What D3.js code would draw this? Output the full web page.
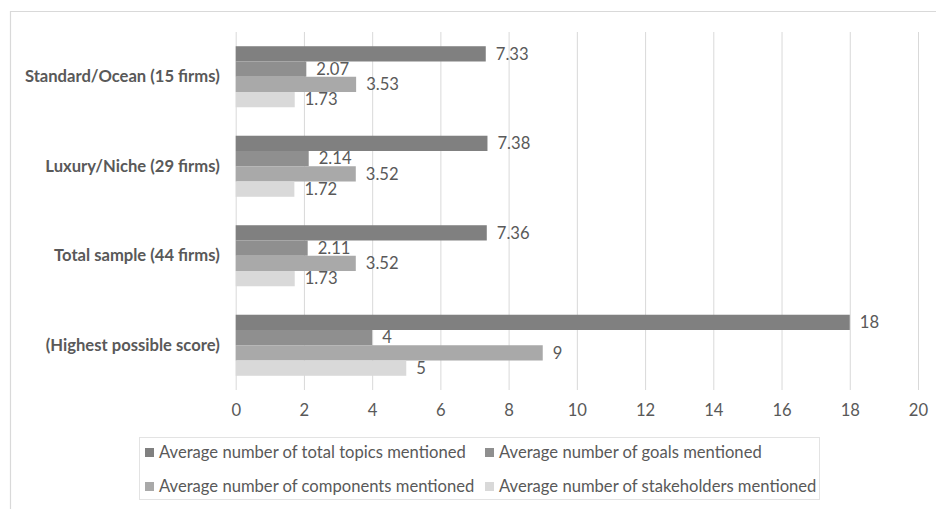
<!DOCTYPE html>
<html>
<head>
<meta charset="utf-8">
<script src="https://cdn.jsdelivr.net/npm/d3@7"></script>
<style>
  html, body { margin: 0; padding: 0; background: #ffffff; }
  svg { display: block; }
</style>
</head>
<body>
<svg id="chart" width="936" height="509"></svg>
<script>
// ---- data ----
const categories = [
  "Standard/Ocean (15 firms)",
  "Luxury/Niche (29 firms)",
  "Total sample (44 firms)",
  "(Highest possible score)"
];
const seriesNames = [
  "Average number of total topics mentioned",
  "Average number of goals mentioned",
  "Average number of components mentioned",
  "Average number of stakeholders mentioned"
];
const totalTopics  = [7.33, 7.38, 7.36, 18];
const goals        = [2.07, 2.14, 2.11, 4];
const components   = [3.53, 3.52, 3.52, 9];
const stakeholders = [1.73, 1.72, 1.73, 5];
const valueLabels = [
  ["7.33", "7.38", "7.36", "18"],
  ["2.07", "2.14", "2.11", "4"],
  ["3.53", "3.52", "3.52", "9"],
  ["1.73", "1.72", "1.73", "5"]
];
const xTicks = [0, 2, 4, 6, 8, 10, 12, 14, 16, 18, 20];
const seriesColors = ["#808080", "#8f8f8f", "#a9a9a9", "#d9d9d9"];

const seriesValues = [totalTopics, goals, components, stakeholders];

// ---- layout ----
const FONT = "Lato, 'Open Sans', sans-serif";
const TEXT = "#595959";
const GRID = "#d9d9d9";
const plot = { left: 235.7, right: 918, top: 32, bottom: 390 };

const svg = d3.select("#chart");

// fit font size so legend text width matches the reference (~307px)
const probe = svg.append("text").attr("font-family", FONT).attr("font-size", 100)
  .text(seriesNames[0]);
const probeW = probe.node().getComputedTextLength();
probe.remove();
const FS = Math.min(18, 100 * 307 / probeW);

// outer frame
svg.append("path")
  .attr("d", "M10.5,509 V11.5 H936")
  .attr("fill", "none").attr("stroke", "#d9d9d9").attr("stroke-width", 1.2);

const x = d3.scaleLinear().domain([0, 20]).range([plot.left, plot.right]);
const y = d3.scaleBand().domain(categories).range([plot.top, plot.bottom])
  .paddingInner(0.318).paddingOuter(0.159);
const ySub = d3.scaleBand().domain(d3.range(seriesNames.length)).range([0, y.bandwidth()]);

// gridlines
const gAxis = svg.append("g")
  .attr("transform", `translate(0,${plot.bottom})`)
  .call(d3.axisBottom(x).tickValues(xTicks).tickSize(-(plot.bottom - plot.top)).tickSizeOuter(0).tickPadding(14));
gAxis.select(".domain").remove();
gAxis.selectAll(".tick line").attr("stroke", GRID).attr("stroke-width", 1);
gAxis.selectAll(".tick text")
  .attr("fill", TEXT).attr("font-family", FONT).attr("font-size", FS)
  .attr("dy", "0.71em");

// bars
const groups = svg.append("g").selectAll("g")
  .data(categories).join("g")
  .attr("transform", d => `translate(0,${y(d)})`);

groups.each(function(cat, ci) {
  const g = d3.select(this);
  seriesValues.forEach((vals, si) => {
    g.append("rect")
      .attr("x", x(0))
      .attr("y", ySub(si))
      .attr("width", x(vals[ci]) - x(0))
      .attr("height", ySub.bandwidth())
      .attr("fill", seriesColors[si]);
    g.append("text")
      .attr("x", x(vals[ci]) + 10)
      .attr("y", ySub(si) + ySub.bandwidth() / 2)
      .attr("dy", "0.35em")
      .attr("fill", TEXT)
      .attr("font-family", FONT)
      .attr("font-size", FS)
      .text(valueLabels[si][ci]);
  });
});

// category labels
const gY = svg.append("g")
  .attr("transform", `translate(${plot.left},0)`)
  .call(d3.axisLeft(y).tickSize(0).tickPadding(16));
gY.select(".domain").remove();
gY.selectAll(".tick text")
  .attr("fill", TEXT).attr("font-family", FONT).attr("font-size", FS)
  .attr("font-weight", "bold");

// legend
const legend = svg.append("g");
legend.append("rect")
  .attr("x", 139.5).attr("y", 437.5).attr("width", 680).attr("height", 62)
  .attr("fill", "none").attr("stroke", "#e3e3e3").attr("stroke-width", 1);
const legendPos = [
  { x: 145, y: 452.5 }, { x: 485, y: 452.5 },
  { x: 145, y: 486.5 }, { x: 485, y: 486.5 }
];
seriesNames.forEach((name, i) => {
  const p = legendPos[i];
  legend.append("rect")
    .attr("x", p.x).attr("y", p.y - 4.5).attr("width", 9).attr("height", 9)
    .attr("fill", seriesColors[i]);
  legend.append("text")
    .attr("x", p.x + 14).attr("y", p.y).attr("dy", "0.35em")
    .attr("fill", TEXT).attr("font-family", FONT).attr("font-size", FS)
    .text(name);
});
</script>
</body>
</html>
